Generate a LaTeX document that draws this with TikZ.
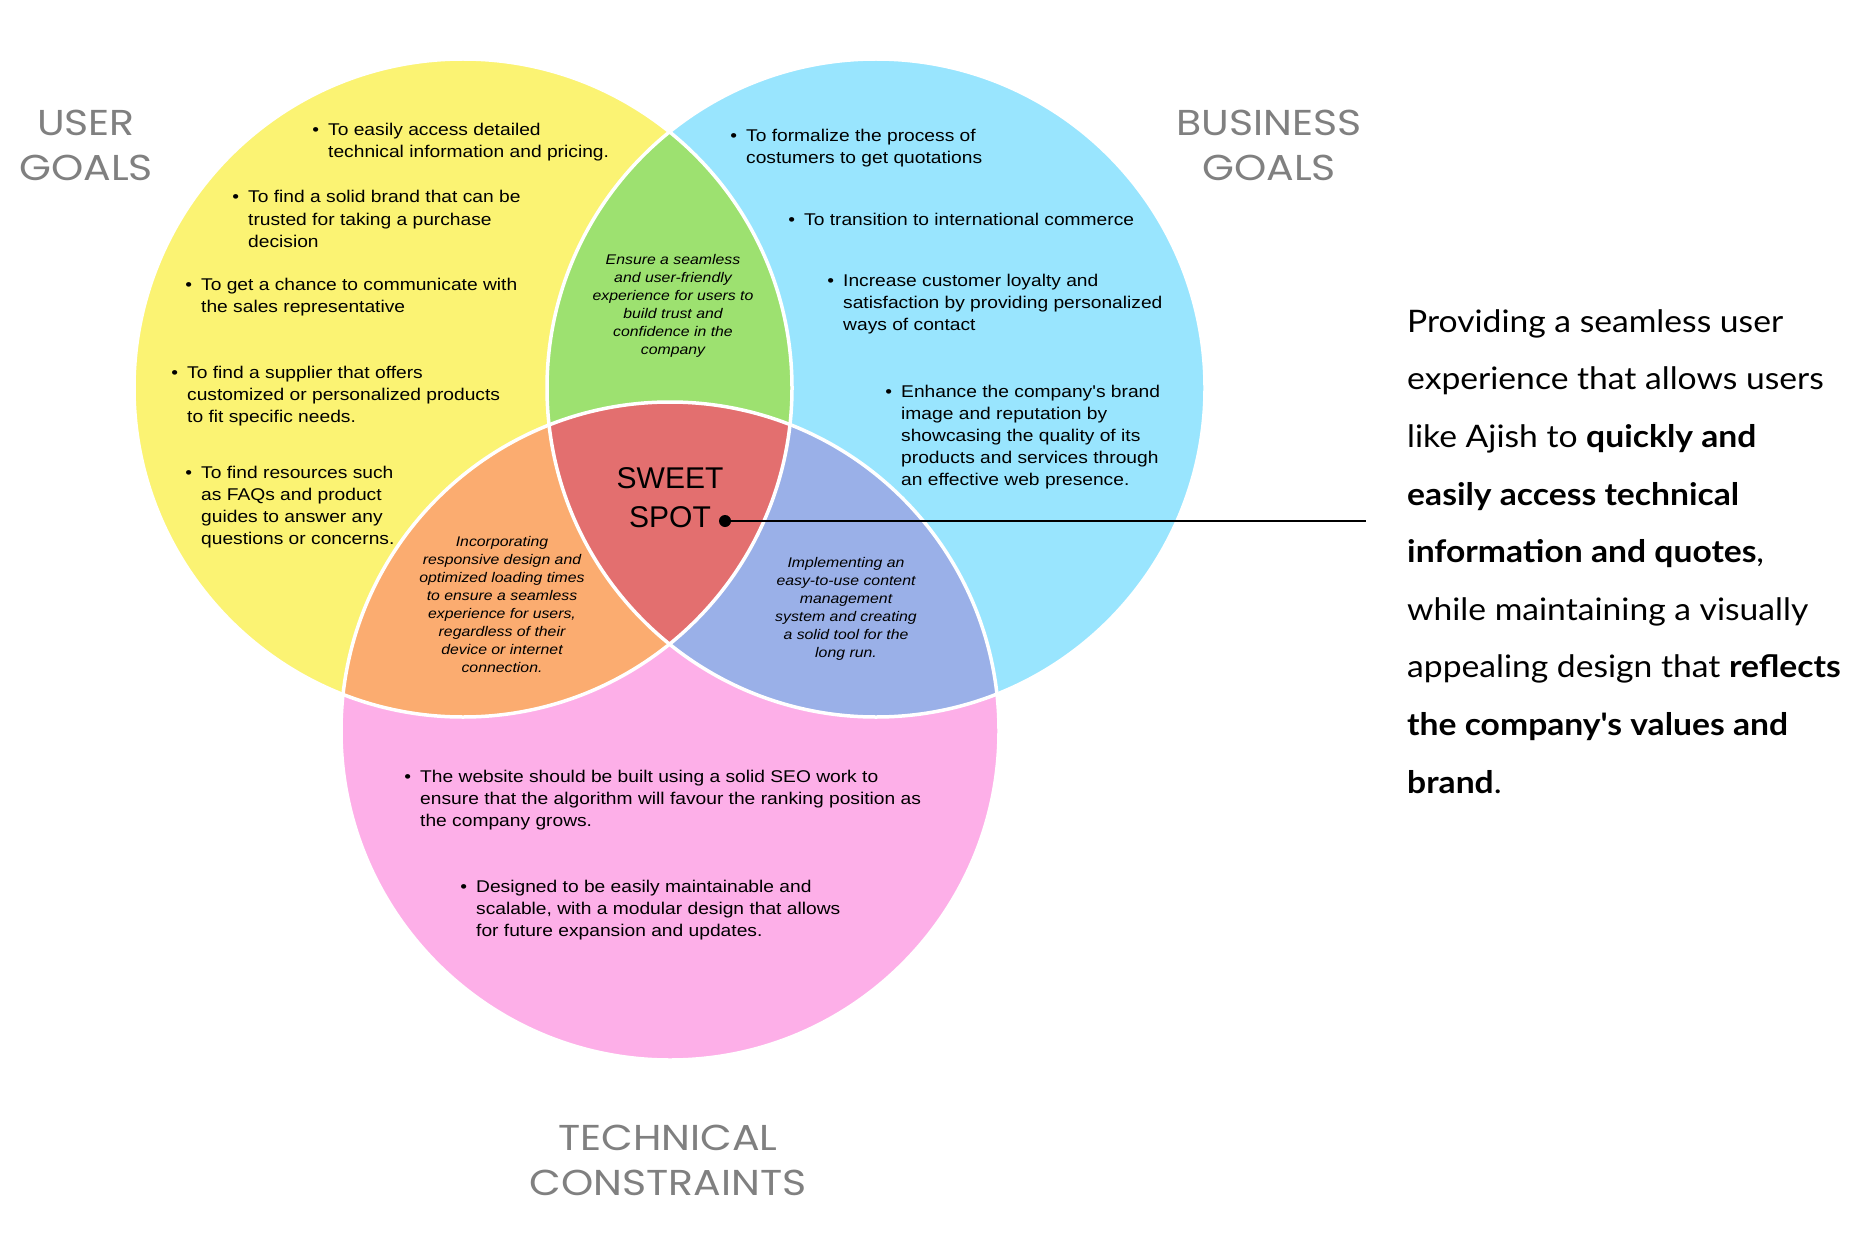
\documentclass[tikz,border=0pt]{standalone}
\usepackage{fontspec}
\setmainfont{Liberation Sans}
\newfontfamily\bodyfont[FakeStretch=1.13]{Liberation Sans}
\newfontfamily\titlefont[FakeStretch=1.14]{Poppins}
\newfontfamily\descfont[FakeStretch=1.085]{Lato}
\definecolor{cyellow}{HTML}{FBF373}
\definecolor{cblue}{HTML}{99E5FE}
\definecolor{cpink}{HTML}{FDAFE8}
\definecolor{cgreen}{HTML}{9DE170}
\definecolor{corange}{HTML}{FBAC70}
\definecolor{cpurple}{HTML}{9AB0E8}
\definecolor{cred}{HTML}{E36F6F}
\definecolor{ctitle}{HTML}{808080}
\newcommand{\bul}{\llap{\textbullet\hspace{9pt}}}
\tikzset{
  bullettext/.style={anchor=base west, align=left, inner sep=0pt, font=\bodyfont\fontsize{17}{22}\selectfont},
  lenstext/.style={anchor=center, align=center, inner sep=0pt, font=\bodyfont\fontsize{14}{18}\selectfont\itshape},
  titletext/.style={anchor=base, align=center, inner sep=0pt, text=ctitle, font=\titlefont\fontsize{36}{45}\selectfont},
  ring/.style={draw=white, line width=3.5pt},
}
\begin{document}
\begin{tikzpicture}[x=1pt,y=-1pt]
\useasboundingbox (0,0) rectangle (1870,1260);
\fill[white] (0,0) rectangle (1870,1260);
% circles
\def\R{329}
\fill[cyellow] (463,388) circle (\R);
\fill[cblue] (876,388) circle (\R);
\fill[cpink] (670,731) circle (\R);
\begin{scope}
  \clip (463,388) circle (\R);
  \fill[cgreen] (876,388) circle (\R);
  \fill[corange] (670,731) circle (\R);
\end{scope}
\begin{scope}
  \clip (876,388) circle (\R);
  \fill[cpurple] (670,731) circle (\R);
\end{scope}
\begin{scope}
  \clip (463,388) circle (\R);
  \clip (876,388) circle (\R);
  \fill[cred] (670,731) circle (\R);
\end{scope}
\draw[ring] (463,388) circle (\R);
\draw[ring] (876,388) circle (\R);
\draw[ring] (670,731) circle (\R);

% titles (anchor = baseline of last line)
\node[titletext] (tuser) at (86,181) {USER\\GOALS};
\node[titletext] (tbus) at (1269,181) {BUSINESS\\GOALS};
\node[titletext] (ttech) at (668,1195) {TECHNICAL\\CONSTRAINTS};

% user goals
\node[bullettext] (u1) at (328,158) {\bul To easily access detailed\\technical information and pricing.};
\node[bullettext] (u2) at (248,247) {\bul To find a solid brand that can be\\trusted for taking a purchase\\decision};
\node[bullettext] (u3) at (201,312) {\bul To get a chance to communicate with\\the sales representative};
\node[bullettext] (u4) at (187,422) {\bul To find a supplier that offers\\customized or personalized products\\to fit specific needs.};
\node[bullettext] (u5) at (201,544) {\bul To find resources such\\as FAQs and product\\guides to answer any\\questions or concerns.};

% business goals
\node[bullettext] (b1) at (746,164) {\bul To formalize the process of\\costumers to get quotations};
\node[bullettext] (b2) at (804,225) {\bul To transition to international commerce};
\node[bullettext] (b3) at (843,330) {\bul Increase customer loyalty and\\satisfaction by providing personalized\\ways of contact};
\node[bullettext] (b4) at (901,485) {\bul Enhance the company's brand\\image and reputation by\\showcasing the quality of its\\products and services through\\an effective web presence.};

% technical constraints
\node[bullettext] (c1) at (420,826) {\bul The website should be built using a solid SEO work to\\ensure that the algorithm will favour the ranking position as\\the company grows.};
\node[bullettext] (c2) at (476,936) {\bul Designed to be easily maintainable and\\scalable, with a modular design that allows\\for future expansion and updates.};

% lens texts
\node[lenstext] (lgreen) at (673,306) {Ensure a seamless\\and user-friendly\\experience for users to\\build trust and\\confidence in the\\company};
\node[lenstext] (lorange) at (502,604) {Incorporating\\responsive design and\\optimized loading times\\to ensure a seamless\\experience for users,\\regardless of their\\device or internet\\connection.};
\node[lenstext] (lpurple) at (846,609) {Implementing an\\easy-to-use content\\management\\system and creating\\a solid tool for the\\long run.};

% sweet spot
\node[align=center, inner sep=0pt, font=\fontsize{30}{39}\selectfont] (sweet) at (670,498) {SWEET\\SPOT};
\node[circle, fill=black, inner sep=0pt, minimum size=12pt] (dot) at (725,521) {};
\coordinate (lineend) at (1366,521);
\draw[line width=2pt] (dot.center) -- (lineend);

% description (anchor = baseline of last line)
\node[anchor=base west, align=left, inner sep=0pt, font=\descfont\fontsize{31}{57.6}\selectfont] (desc) at (1407,793)
{Providing a seamless user\\
experience that allows users\\
like Ajish to \textbf{quickly and}\\
\textbf{easily access technical}\\
\textbf{information and quotes},\\
while maintaining a visually\\
appealing design that \textbf{reflects}\\
\textbf{the company's values and}\\
\textbf{brand}.};
\end{tikzpicture}
\end{document}
